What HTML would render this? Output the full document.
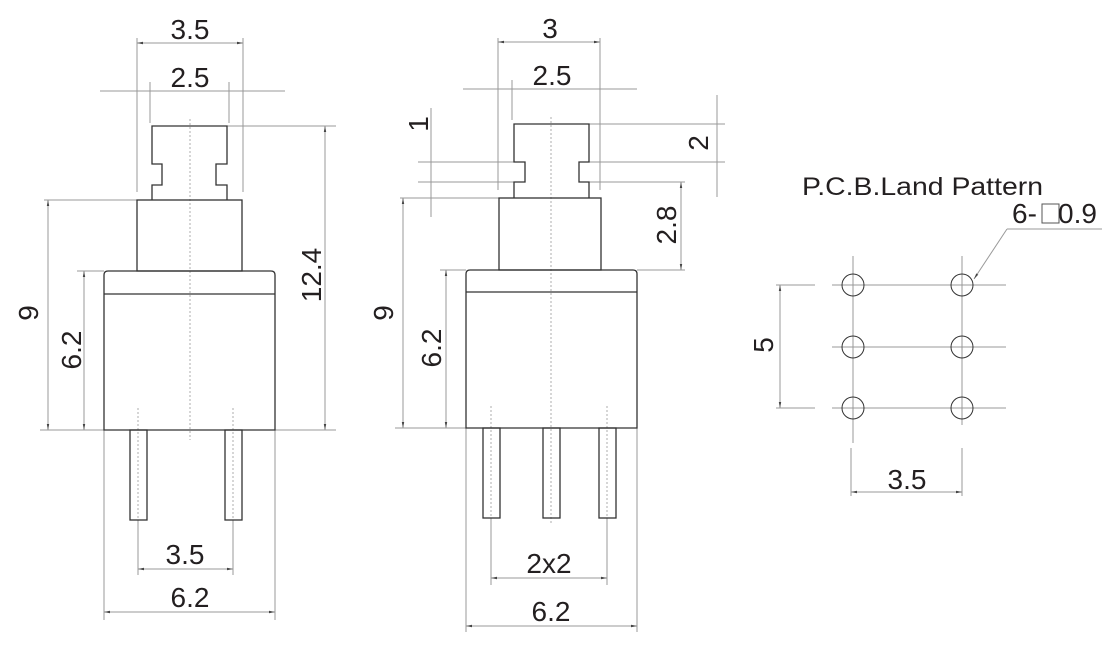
<!DOCTYPE html>
<html><head><meta charset="utf-8"><style>
html,body{margin:0;padding:0;background:#fff;}
svg{display:block;}
text{font-family:"Liberation Sans",sans-serif;fill:#231f20;}
</style></head><body>
<svg width="1120" height="647" viewBox="0 0 1120 647" xmlns="http://www.w3.org/2000/svg">
<defs>
<marker id="a" viewBox="0 0 10 10" refX="10" refY="5" markerWidth="6" markerHeight="6" orient="auto-start-reverse"><path d="M0,3 L10,5 L0,7z" fill="#444"/></marker>
</defs>
<g fill="none" stroke="#999" stroke-width="1">
<line x1="137" y1="38" x2="137" y2="192"/><line x1="243" y1="38" x2="243" y2="192"/>
<line x1="137" y1="43" x2="243" y2="43" marker-start="url(#a)" marker-end="url(#a)"/>
<line x1="100" y1="91" x2="285" y2="91"/>
<line x1="150" y1="82" x2="150" y2="123"/><line x1="229" y1="82" x2="229" y2="123"/>
<line x1="227" y1="126" x2="336" y2="126"/>
<line x1="325" y1="126" x2="325" y2="430" marker-start="url(#a)" marker-end="url(#a)"/>
<line x1="44" y1="200" x2="137" y2="200"/>
<line x1="48" y1="200" x2="48" y2="430" marker-start="url(#a)" marker-end="url(#a)"/>
<line x1="77" y1="271" x2="104" y2="271"/>
<line x1="84" y1="271" x2="84" y2="430" marker-start="url(#a)" marker-end="url(#a)"/>
<line x1="40" y1="430" x2="336" y2="430"/>
<line x1="138" y1="520" x2="138" y2="575"/><line x1="233" y1="520" x2="233" y2="575"/>
<line x1="138" y1="569" x2="233" y2="569" marker-start="url(#a)" marker-end="url(#a)"/>
<line x1="104" y1="430" x2="104" y2="620"/><line x1="275" y1="430" x2="275" y2="620"/>
<line x1="104" y1="612" x2="275" y2="612" marker-start="url(#a)" marker-end="url(#a)"/>
<line x1="498" y1="38" x2="498" y2="190"/><line x1="600" y1="38" x2="600" y2="190"/>
<line x1="498" y1="42" x2="600" y2="42" marker-start="url(#a)" marker-end="url(#a)"/>
<line x1="463" y1="89" x2="637" y2="89"/>
<line x1="512" y1="80" x2="512" y2="120"/>
<line x1="418" y1="162" x2="514" y2="162"/><line x1="418" y1="182" x2="514" y2="182"/>
<line x1="431" y1="108" x2="431" y2="217"/>
<line x1="589" y1="124" x2="725" y2="124"/><line x1="589" y1="162" x2="725" y2="162"/>
<line x1="717" y1="95" x2="717" y2="197"/>
<line x1="589" y1="182" x2="685" y2="182"/><line x1="637" y1="270" x2="685" y2="270"/>
<line x1="681" y1="182" x2="681" y2="270" marker-start="url(#a)" marker-end="url(#a)"/>
<line x1="400" y1="198" x2="499" y2="198"/>
<line x1="403" y1="198" x2="403" y2="428" marker-start="url(#a)" marker-end="url(#a)"/>
<line x1="440" y1="270" x2="466" y2="270"/>
<line x1="446" y1="270" x2="446" y2="428" marker-start="url(#a)" marker-end="url(#a)"/>
<line x1="395" y1="428" x2="637" y2="428"/>
<line x1="491" y1="518" x2="491" y2="585"/><line x1="607" y1="518" x2="607" y2="585"/>
<line x1="491" y1="578" x2="607" y2="578" marker-start="url(#a)" marker-end="url(#a)"/>
<line x1="466" y1="428" x2="466" y2="632"/><line x1="637" y1="428" x2="637" y2="632"/>
<line x1="466" y1="626" x2="637" y2="626" marker-start="url(#a)" marker-end="url(#a)"/>
<line x1="853" y1="256" x2="853" y2="443"/><line x1="962" y1="256" x2="962" y2="425"/>
<line x1="832" y1="285" x2="1006" y2="285"/><line x1="832" y1="347" x2="1006" y2="347"/><line x1="832" y1="408" x2="1006" y2="408"/>
<line x1="776" y1="285" x2="815" y2="285"/><line x1="776" y1="408" x2="815" y2="408"/>
<line x1="780" y1="285" x2="780" y2="408" marker-start="url(#a)" marker-end="url(#a)"/>
<line x1="851" y1="448" x2="851" y2="496"/><line x1="962" y1="448" x2="962" y2="496"/>
<line x1="851" y1="492" x2="962" y2="492" marker-start="url(#a)" marker-end="url(#a)"/>
<line x1="1007" y1="229" x2="1102" y2="229"/>
<line x1="1007" y1="229" x2="974" y2="279" marker-end="url(#a)"/>
</g>
<g stroke="#999" stroke-width="0.8" stroke-dasharray="2,2" fill="none">
<line x1="190" y1="119" x2="190" y2="440"/>
<line x1="138" y1="408" x2="138" y2="520"/><line x1="233" y1="408" x2="233" y2="520"/>
<line x1="551" y1="117" x2="551" y2="525"/>
<line x1="491" y1="406" x2="491" y2="518"/><line x1="607" y1="406" x2="607" y2="518"/>
</g>
<g fill="none" stroke="#333" stroke-width="1.3">
<path d="M152,200 V185 H162 V164 H152 V126 H227 V164 H216 V185 H227 V200"/>
<rect x="137" y="200" width="105" height="71"/>
<path d="M104,430 V275 Q104,271 108,271 H271 Q275,271 275,275 V430 Z"/>
<line x1="104" y1="294" x2="275" y2="294"/>
<rect x="130" y="430" width="17" height="90"/><rect x="225" y="430" width="17" height="90"/>
<path d="M514,198 V182 H525 V162 H514 V124 H589 V162 H579 V182 H589 V198"/>
<rect x="499" y="198" width="102" height="72"/>
<path d="M466,428 V274 Q466,270 470,270 H633 Q637,270 637,274 V428 Z"/>
<line x1="466" y1="292" x2="637" y2="292"/>
<rect x="483" y="428" width="17" height="90"/><rect x="543" y="428" width="17" height="90"/><rect x="599" y="428" width="17" height="90"/>
<g stroke-width="1">
<circle cx="853" cy="285" r="11"/><circle cx="962" cy="285" r="11"/>
<circle cx="853" cy="347" r="11"/><circle cx="962" cy="347" r="11"/>
<circle cx="853" cy="408" r="11"/><circle cx="962" cy="408" r="11"/>
<rect x="1042" y="204" width="17" height="19" stroke="#555"/>
</g>
</g>
<g font-size="28" text-anchor="middle">
<text x="190" y="39">3.5</text>
<text x="190" y="87">2.5</text>
<text x="185" y="564">3.5</text>
<text x="190" y="607">6.2</text>
<text x="550" y="38">3</text>
<text x="552" y="85">2.5</text>
<text x="549" y="573">2x2</text>
<text x="551" y="621">6.2</text>
<text x="907" y="489">3.5</text>
<text transform="translate(321,275) rotate(-90)">12.4</text>
<text transform="translate(38,313) rotate(-90)">9</text>
<text transform="translate(81,350) rotate(-90)">6.2</text>
<text transform="translate(393,313) rotate(-90)">9</text>
<text transform="translate(441,348) rotate(-90)">6.2</text>
<text transform="translate(428,124) rotate(-90)">1</text>
<text transform="translate(708,143) rotate(-90)">2</text>
<text transform="translate(676,225) rotate(-90)">2.8</text>
<text transform="translate(773,345) rotate(-90)">5</text>
</g>
<text x="802" y="195" font-size="25" textLength="241" lengthAdjust="spacingAndGlyphs">P.C.B.Land Pattern</text>
<text x="1012" y="223" font-size="28">6-</text>
<text x="1058" y="223" font-size="28">0.9</text>
</svg>
</body></html>
